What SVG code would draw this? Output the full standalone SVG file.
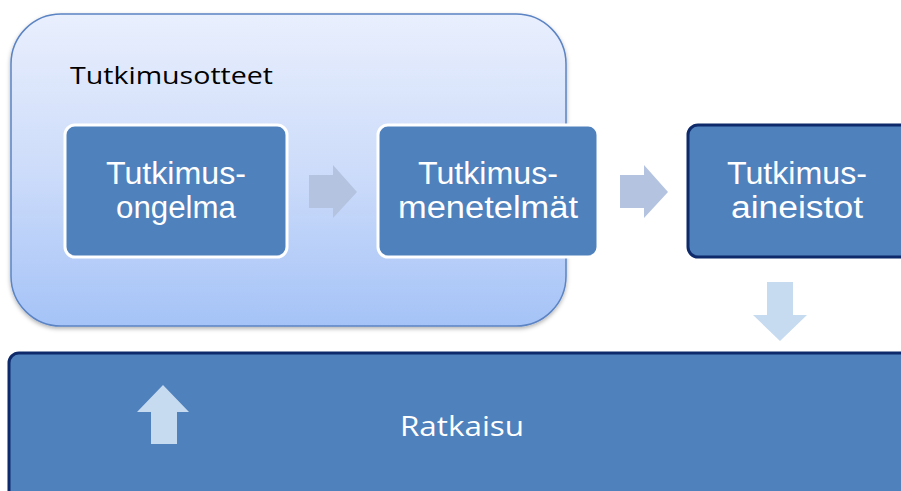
<svg xmlns="http://www.w3.org/2000/svg" width="901" height="491" viewBox="0 0 901 491">
<defs>
<linearGradient id="bg" x1="0" y1="0" x2="0" y2="1">
<stop offset="0" stop-color="#e9effd"/>
<stop offset="0.5" stop-color="#cddcfa"/>
<stop offset="1" stop-color="#a5c3f7"/>
</linearGradient>
<filter id="sh" x="-5%" y="-5%" width="110%" height="115%">
<feDropShadow dx="0" dy="2" stdDeviation="2" flood-color="#000" flood-opacity="0.3"/>
</filter>
</defs>
<style>
.box{fill:#4f81bd}
.wb{stroke:#fff;stroke-width:3}
.db{stroke:#0e2a6a;stroke-width:3}
.t{font-family:"Liberation Sans","Open Sans",sans-serif;fill:#fff;text-anchor:middle}
.r{font-family:"Open Sans","DejaVu Sans",sans-serif;fill:#fff;text-anchor:middle}
.arr1{fill:#b4c3df}
.arr2{fill:#c6daf0}
</style>
<g id="container">
<rect x="11" y="14" width="555" height="312" rx="50" fill="url(#bg)" stroke="#5b84c4" stroke-width="1.5" filter="url(#sh)"/>
<text x="70" y="84" font-family="'Open Sans','DejaVu Sans',sans-serif" font-size="24" fill="#000" textLength="203" lengthAdjust="spacingAndGlyphs">Tutkimusotteet</text>
</g>
<g id="n1">
<rect class="box wb" x="65" y="125" width="222" height="132" rx="10"/>
<text class="t" font-size="31" x="176" y="184" textLength="140" lengthAdjust="spacingAndGlyphs">Tutkimus-</text>
<text class="t" font-size="31" x="176" y="218" textLength="120" lengthAdjust="spacingAndGlyphs">ongelma</text>
</g>
<g id="n2">
<rect class="box wb" x="378" y="125" width="220" height="132" rx="10"/>
<text class="t" font-size="31" x="488" y="184" textLength="140" lengthAdjust="spacingAndGlyphs">Tutkimus-</text>
<text class="t" font-size="31" x="488" y="218" textLength="180" lengthAdjust="spacingAndGlyphs">menetelmät</text>
</g>
<g id="n3">
<rect class="box db" x="688" y="125" width="230" height="132" rx="10"/>
<text class="t" font-size="31" x="797" y="184" textLength="140" lengthAdjust="spacingAndGlyphs">Tutkimus-</text>
<text class="t" font-size="31" x="797" y="218" textLength="132" lengthAdjust="spacingAndGlyphs">aineistot</text>
</g>
<g id="n4">
<rect class="box db" x="9" y="353" width="910" height="150" rx="10"/>
<text class="r" font-size="28" x="462" y="436" textLength="124" lengthAdjust="spacingAndGlyphs">Ratkaisu</text>
</g>
<g id="connectors">
<polygon class="arr1" points="309,175 333,175 333,165 357,192 333,218 333,208 309,208"/>
<polygon class="arr1" points="620,175 644,175 644,165 668,192 644,218 644,208 620,208"/>
<polygon class="arr2" points="767,282 793,282 793,315 807,315 780,341 753,315 767,315"/>
<polygon class="arr2" points="151,444 177,444 177,412 189,412 163,385 137,412 151,412"/>
</g>
</svg>
